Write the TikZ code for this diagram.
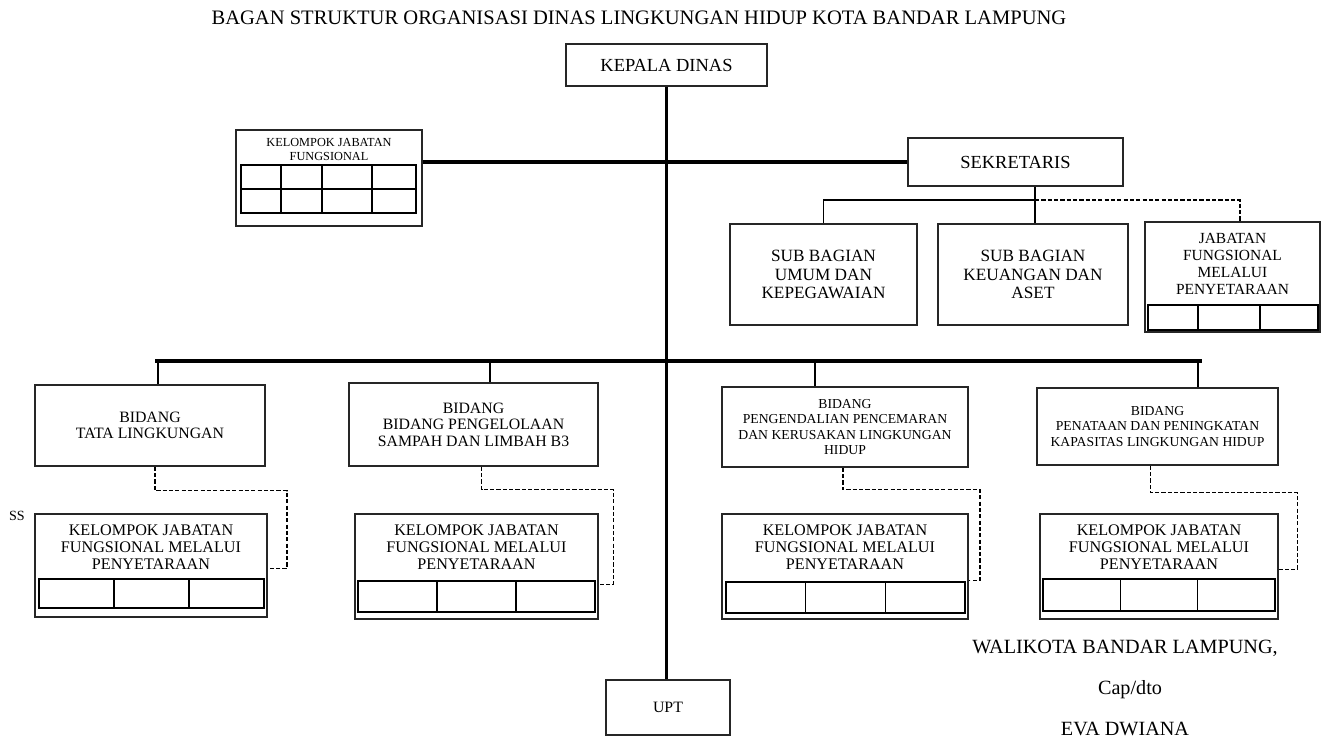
\documentclass[tikz,border=0pt]{standalone}
\usepackage{fontspec}
\setmainfont{Liberation Serif}
\usetikzlibrary{positioning,calc}

\tikzset{
  box/.style={rectangle, draw=black!85, line width=0.9pt, fill=white, align=center, inner sep=1pt},
  boxtext/.style={align=center, inner sep=0pt},
  trunk/.style={line width=1.8pt},
  conn/.style={line width=0.8pt},
  dashline/.style={line width=0.8pt, dash pattern=on 2.4pt off 1.2pt},
  cell/.style={line width=0.9pt},
}
\newcommand{\fs}[2]{\fontsize{#1}{#2}\selectfont}

\begin{document}
\begin{tikzpicture}[x=0.02cm, y=-0.02cm]
\useasboundingbox (0,0) rectangle (1322,741);

% title
\node (title) [font=\fs{11.7}{13}] at (639,18) {BAGAN STRUKTUR ORGANISASI DINAS LINGKUNGAN HIDUP KOTA BANDAR LAMPUNG};

% top level
\node (kepala) [box, font=\fs{10.5}{12}, minimum width=4.02cm, minimum height=0.84cm] at (666.5,65) {KEPALA DINAS};
\node (kjfTop) [box, minimum width=3.72cm, minimum height=1.92cm] at (329,178) {};
\node [boxtext, font=\fs{7}{8}, below=5pt of kjfTop.north] {KELOMPOK JABATAN\\FUNGSIONAL};
\node (sek) [box, font=\fs{10.5}{12}, minimum width=4.3cm, minimum height=0.96cm] at (1015.5,162) {SEKRETARIS};

% sekretariat
\node (sbUmum) [box, font=\fs{9.8}{10.6}, minimum width=3.74cm, minimum height=2.02cm] at (823.5,274.5) {SUB BAGIAN\\UMUM DAN\\KEPEGAWAIAN};
\node (sbKeu) [box, font=\fs{9.8}{10.6}, minimum width=3.8cm, minimum height=2.02cm] at (1033,274.5) {SUB BAGIAN\\KEUANGAN DAN\\ASET};
\node (jfSek) [box, minimum width=3.5cm, minimum height=2.2cm] at (1232.5,277) {};
\node [boxtext, font=\fs{8.8}{9.8}, below=6.5pt of jfSek.north] {JABATAN\\FUNGSIONAL\\MELALUI\\PENYETARAAN};

% bidang
\node (bidA) [box, font=\fs{9}{9.4}, minimum width=4.6cm, minimum height=1.62cm] at (150,425.5) {BIDANG\\TATA LINGKUNGAN};
\node (bidB) [box, font=\fs{9}{9.4}, minimum width=4.98cm, minimum height=1.66cm] at (473.5,424.5) {BIDANG\\BIDANG PENGELOLAAN\\SAMPAH DAN LIMBAH B3};
\node (bidC) [box, font=\fs{7.8}{8.6}, minimum width=4.92cm, minimum height=1.6cm] at (845,427) {BIDANG\\PENGENDALIAN PENCEMARAN\\DAN KERUSAKAN LINGKUNGAN\\HIDUP};
\node (bidD) [box, font=\fs{7.8}{8.6}, minimum width=4.82cm, minimum height=1.54cm] at (1157.5,426.5) {BIDANG\\PENATAAN DAN PENINGKATAN\\KAPASITAS LINGKUNGAN HIDUP};

% kelompok jabatan fungsional
\node (kjfA) [box, minimum width=4.64cm, minimum height=2.06cm] at (151,565.5) {};
\node (kjfB) [box, minimum width=4.86cm, minimum height=2.1cm] at (476.5,566.5) {};
\node (kjfC) [box, minimum width=4.92cm, minimum height=2.1cm] at (845,566.5) {};
\node (kjfD) [box, minimum width=4.76cm, minimum height=2.1cm] at (1159,566.5) {};
\foreach \k in {kjfA,kjfB,kjfC,kjfD}
  \node [boxtext, font=\fs{9.2}{9.7}, below=6.5pt of \k.north] {KELOMPOK JABATAN\\FUNGSIONAL MELALUI\\PENYETARAAN};

\node (ss) [font=\fs{8}{9}] at (17,516) {SS};

\node (upt) [box, font=\fs{9}{10}, minimum width=2.48cm, minimum height=1.1cm] at (668,707.5) {UPT};

% cells
\draw[cell] (241,165) rectangle (416,213) (241,189) -- (416,189);
\foreach \cx in {281,322,372} \draw[cell] (\cx,165) -- (\cx,213);
\draw[cell] (1148,305) rectangle (1318,330);
\foreach \cx in {1198,1260} \draw[cell] (\cx,305) -- (\cx,330);
\foreach \l/\r/\t/\b in {39/264/579/608, 358/595/581/612, 726/965/582/613, 1043/1275/579/611} {
  \draw[cell] (\l,\t) rectangle (\r,\b);
  \foreach \k in {1,2} \draw[cell] ({\l+\k*(\r-\l)/3},\t) -- ({\l+\k*(\r-\l)/3},\b);
}

% connectors
\coordinate (barL) at (155,361);
\coordinate (barR) at (1202,361);
\coordinate (dA) at (158,361);
\coordinate (dB) at (490,361);
\coordinate (dC) at (815,361);
\coordinate (dD) at (1198,361);
\coordinate (sbar) at (1035,200);

\draw[trunk] (kepala.south) -- (kepala.south |- upt.north);
\draw[trunk] (kjfTop.east |- sek.west) -- (sek.west);
\draw[trunk] (barL) -- (barR);
\foreach \d/\b in {dA/bidA, dB/bidB, dC/bidC, dD/bidD}
  \draw[conn] (\d) -- (\d |- \b.north);

\draw[conn] (sek.south -| sbar) -- (sbar);
\draw[conn] (sbar) -| (sbUmum.north);
\draw[conn] (sbar) -- (sbar |- sbKeu.north);
\draw[dashline] (sbar) -| (jfSek.north -| 1240,0);

\draw[dashline] ($(bidA.south)+(5,0)$) |- ++(132,24) |- ($(kjfA.east)+(0,3)$);
\draw[dashline] ($(bidB.south)+(8,0)$) |- ++(132,23) |- ($(kjfB.east)+(0,18)$);
\draw[dashline] ($(bidC.south)+(-2,0)$) |- ++(137,22) |- ($(kjfC.east)+(0,14)$);
\draw[dashline] ($(bidD.south)+(-7,0)$) |- ++(147,27) |- ($(kjfD.east)+(0,3)$);

% signature
\node (wali) [font=\fs{11.5}{13}] at (1125,648) {WALIKOTA BANDAR LAMPUNG,};
\node (cap) [font=\fs{11.5}{13}] at (1130,690) {Cap/dto};
\node (eva) [font=\fs{11.5}{13}] at (1125,729) {EVA DWIANA};

\end{tikzpicture}
\end{document}
